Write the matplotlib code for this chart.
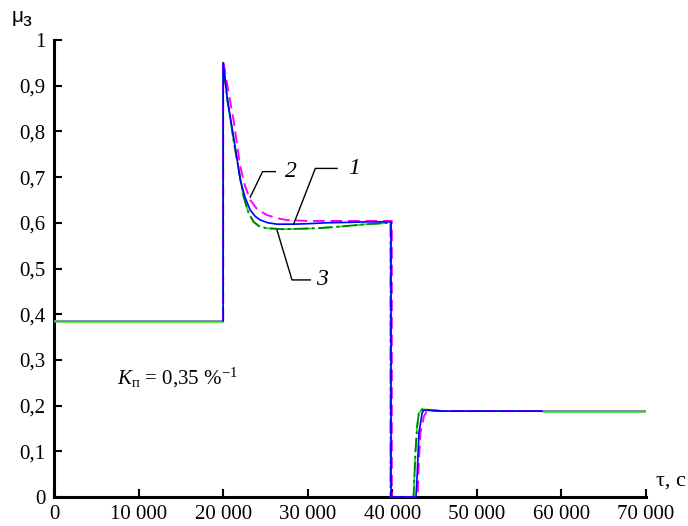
import matplotlib
matplotlib.use("Agg")
import matplotlib.pyplot as plt

plt.rcParams['font.family'] = ['Liberation Serif', 'DejaVu Serif']
plt.rcParams['mathtext.fontset'] = 'custom'
plt.rcParams['mathtext.rm'] = 'Liberation Serif'
plt.rcParams['mathtext.it'] = 'Liberation Serif:italic'

# ---- data ----
tau_head = [0, 20000]
mu_head = [0.385, 0.385]
tau_tail = [57700, 70000]
mu_tail = [0.188, 0.188]

# curve 1 (blue, solid)
tau1 = [20000, 20000, 20500, 21230, 22020, 22600, 23200, 23800, 24390, 25300, 26370, 28340,
        30000, 32290, 35000, 37020, 39850, 39850, 42800, 42950, 43150, 43530, 43730, 46000, 57700]
mu1 = [0.385, 0.950, 0.870, 0.788, 0.694, 0.655, 0.628, 0.614, 0.606, 0.600, 0.597, 0.597,
       0.598, 0.600, 0.601, 0.602, 0.602, 0.0, 0.0, 0.05, 0.14, 0.184, 0.190, 0.188, 0.188]

# curve 2 (magenta, dashed)
tau2 = [20000, 20000, 20500, 21230, 22020, 22600, 23200, 24000, 25180, 26400, 27550, 30000,
        35000, 39950, 39950, 42950, 43010, 43130, 43330, 43730, 44130, 46000, 57700]
mu2 = [0.385, 0.955, 0.900, 0.825, 0.723, 0.680, 0.650, 0.630, 0.617, 0.610, 0.606, 0.604,
       0.604, 0.604, 0.0, 0.0, 0.009, 0.074, 0.140, 0.176, 0.189, 0.188, 0.188]

# curve 3 (green, dash-dot)
tau3 = [20000, 20000, 20500, 21230, 22410, 23000, 23600, 24300, 25180, 27150, 31100, 34000,
        37020, 39800, 39800, 42500, 42540, 42740, 42940, 43130, 43530, 46000, 57700]
mu3 = [0.385, 0.950, 0.870, 0.781, 0.657, 0.622, 0.602, 0.592, 0.588, 0.586, 0.588, 0.592,
       0.597, 0.600, 0.0, 0.0, 0.010, 0.100, 0.154, 0.183, 0.192, 0.188, 0.188]

xticks = [0, 10000, 20000, 30000, 40000, 50000, 60000, 70000]
xticklabels = ['0', '10 000', '20 000', '30 000', '40 000', '50 000', '60 000', '70 000']
yticks = [0, 0.1, 0.2, 0.3, 0.4, 0.5, 0.6, 0.7, 0.8, 0.9, 1.0]
yticklabels = ['0', '0,1', '0,2', '0,3', '0,4', '0,5', '0,6', '0,7', '0,8', '0,9', '1']

# ---- figure ----
fig = plt.figure(figsize=(6.88, 5.26), dpi=100)
ax = fig.add_axes([54 / 688, 29 / 526, 592 / 688, 457 / 526])

lime = '#22dd22'
ax.plot(tau3, mu3, color=lime, lw=1.3, dashes=(7, 3), zorder=2, clip_on=False)
ax.plot(tau3, mu3, color='#008000', lw=1.3, dashes=(8, 2, 1.5, 2), zorder=3, clip_on=False)
ax.plot(tau2, mu2, color='#ff00ff', lw=1.4, dashes=(6, 3), zorder=4, clip_on=False)
ax.plot(tau1, mu1, color='#0000ff', lw=1.2, zorder=5, clip_on=False)

ax.plot(tau_head, mu_head, color=lime, lw=1.8, zorder=2, solid_capstyle='butt')
ax.plot(tau_head, mu_head, color='#8a8ab8', lw=1.3, zorder=3, solid_capstyle='butt')
ax.plot(tau_tail, mu_tail, color=lime, lw=1.8, zorder=2, solid_capstyle='butt')
ax.plot(tau_tail, mu_tail, color='#8a8ab8', lw=1.3, zorder=3, solid_capstyle='butt')

ax.set_xlim(0, 70000)
ax.set_ylim(0, 1)
ax.set_xticks(xticks)
ax.set_xticklabels(xticklabels)
ax.set_yticks(yticks)
ax.set_yticklabels(yticklabels)
ax.tick_params(direction='in', length=6, width=1.5, labelsize=15, pad=6)
for s in ['top', 'right']:
    ax.spines[s].set_visible(False)
for s in ['left', 'bottom']:
    ax.spines[s].set_linewidth(2.2)
    ax.spines[s].set_zorder(1)

# leader lines and labels
lk = dict(color='black', lw=1.0, zorder=6)
ax.plot([23200, 24660, 26170], [0.656, 0.712, 0.712], **lk)
ax.plot([28330, 30900, 33470], [0.597, 0.719, 0.719], **lk)
ax.plot([26370, 28140, 30310], [0.584, 0.475, 0.475], **lk)
ax.text(27300, 0.712, '2', fontsize=17, style='italic', ha='left', va='center')
ax.text(34800, 0.719, '1', fontsize=17, style='italic', ha='left', va='center')
ax.text(31000, 0.475, '3', fontsize=17, style='italic', ha='left', va='center')

ax.text(7500, 0.26, r'$K_{\mathrm{п}}$ = 0,35 %$^{-1}$', fontsize=15, ha='left', va='center')

fig.text(656 / 688, 1 - 481 / 526, 'τ, с', fontsize=16, ha='left', va='center')
fig.text(12 / 688, 1 - 16 / 526, 'μ', fontsize=15, ha='left', va='center',
         family=['Liberation Sans', 'DejaVu Sans'])
fig.text(23 / 688, 1 - 22 / 526, 'з', fontsize=14, ha='left', va='center',
         family=['Liberation Sans', 'DejaVu Sans'])

fig.savefig('out.png', dpi=100)
